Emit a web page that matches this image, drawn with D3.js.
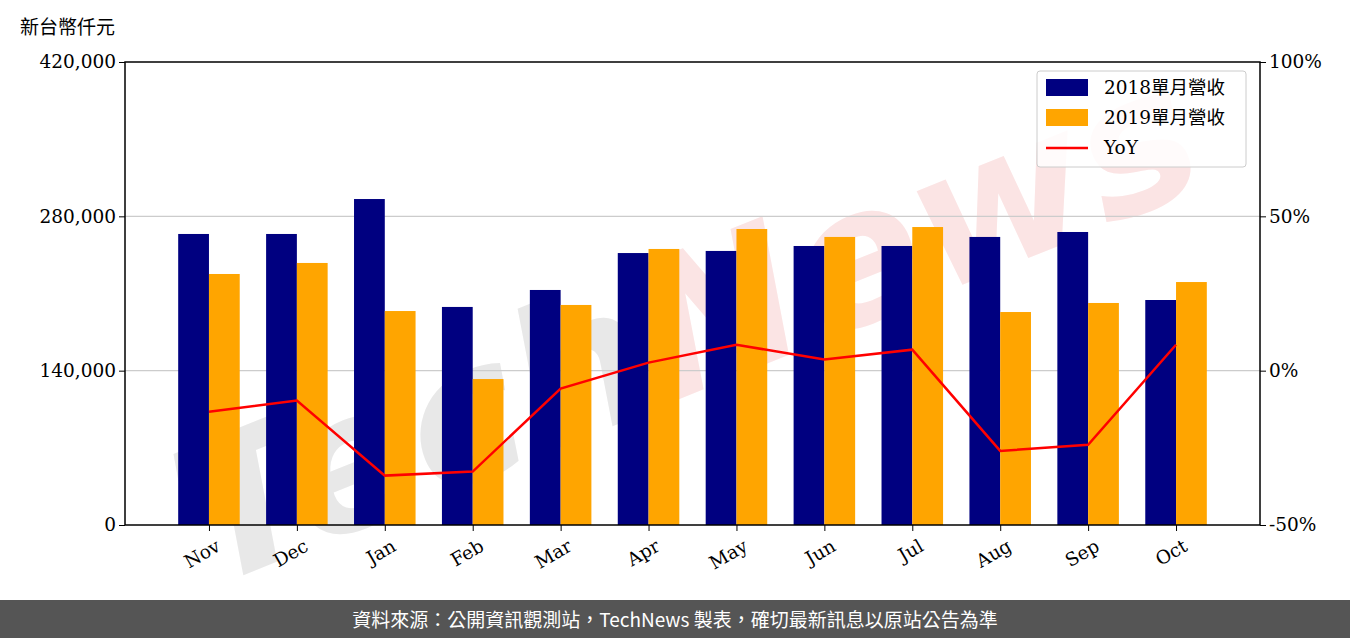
<!DOCTYPE html>
<html><head><meta charset="utf-8">
<script src="https://cdn.jsdelivr.net/npm/d3@7/dist/d3.min.js"></script>
<style>body{margin:0;background:#fff}</style></head>
<body><svg id="c" width="1350" height="638"></svg>
<script>
const categories=["Nov","Dec","Jan","Feb","Mar","Apr","May","Jun","Jul","Aug","Sep","Oct"];
const rev2018=[264000,264000,295700,197800,213200,246700,248600,253100,253100,261300,265800,204100];
const rev2019=[227700,237700,194100,132400,199600,250400,268500,261300,270300,193200,201400,220400];
const yoy=[-13.3,-9.7,-34,-32.7,-5.8,2.6,8.4,3.6,6.8,-26,-24,8.4];
const leftTicks=[0,140000,280000,420000];
const rightTicks=[-50,0,50,100];
const svg=d3.select("#c");
const L=125,R=1260,T=62,B=525;
const serif="'DejaVu Serif',serif", cjk="'Noto Sans CJK TC',sans-serif";
const x=d3.scaleLinear().domain([-0.955,11.955]).range([L,R]);
const y=d3.scaleLinear().domain([0,420000]).range([B,T]);
const y2=d3.scaleLinear().domain([-50,100]).range([B,T]);
const bw=0.35;
// watermark
const wm=svg.append("text").attr("x",690).attr("y",390).attr("text-anchor","middle")
 .attr("transform","rotate(-22,690,330)")
 .attr("font-family","'DejaVu Sans',sans-serif").attr("font-size",190).attr("font-style","italic").attr("font-weight","bold")
 .attr("textLength",1080).attr("lengthAdjust","spacingAndGlyphs");
wm.append("tspan").attr("fill","#e8e8e8").text("Tech");
wm.append("tspan").attr("fill","#fbe4e4").text("News");
svg.selectAll(".g").data([140000,280000]).join("line").attr("x1",L).attr("x2",R)
 .attr("y1",d=>y(d)).attr("y2",d=>y(d)).attr("stroke","#ccc").attr("stroke-width",1.2);
svg.selectAll(".b1").data(rev2018).join("rect").attr("x",(d,i)=>x(i-bw)).attr("width",x(bw)-x(0))
 .attr("y",d=>y(d)).attr("height",d=>B-y(d)).attr("fill","#000080");
svg.selectAll(".b2").data(rev2019).join("rect").attr("x",(d,i)=>x(i)).attr("width",x(bw)-x(0))
 .attr("y",d=>y(d)).attr("height",d=>B-y(d)).attr("fill","#FFA500");
svg.append("path").datum(yoy).attr("d",d3.line().x((d,i)=>x(i)).y(d=>y2(d)))
 .attr("fill","none").attr("stroke","red").attr("stroke-width",2.5);
svg.append("rect").attr("x",L).attr("y",T).attr("width",R-L).attr("height",B-T).attr("fill","none").attr("stroke","#000").attr("stroke-width",1.5);
const la=svg.append("g").attr("transform",`translate(${L},0)`).call(d3.axisLeft(y).tickValues(leftTicks).tickFormat(d3.format(",")).tickSizeOuter(0));
const ra=svg.append("g").attr("transform",`translate(${R},0)`).call(d3.axisRight(y2).tickValues(rightTicks).tickFormat(d=>d+"%").tickSizeOuter(0));
const ba=svg.append("g").attr("transform",`translate(0,${B})`).call(d3.axisBottom(x).tickValues(d3.range(12)).tickFormat(i=>categories[i]).tickSizeOuter(0));
[la,ra,ba].forEach(a=>{a.select(".domain").remove();a.selectAll("text").attr("font-family",serif).attr("font-size",18.5).attr("fill","#000");a.selectAll("line").attr("stroke","#000");});
ba.selectAll("text").attr("text-anchor","end").attr("dx","-0.1em").attr("dy","1.0em").attr("transform","rotate(-30)");
svg.append("text").attr("x",20).attr("y",34).attr("font-family",cjk).attr("font-size",19).text("新台幣仟元");
// legend
const lg=svg.append("g");
lg.append("rect").attr("x",1037).attr("y",71).attr("width",209).attr("height",96).attr("fill","#fff").attr("fill-opacity",0.85).attr("stroke","#ccc").attr("rx",3);
const items=[["2018單月營收","#000080","r"],["2019單月營收","#FFA500","r"],["YoY","red","l"]];
items.forEach((it,i)=>{const yy=88+i*30;
 if(it[2]=="r")lg.append("rect").attr("x",1046).attr("y",yy-9).attr("width",42).attr("height",17).attr("fill",it[1]);
 else lg.append("line").attr("x1",1046).attr("x2",1088).attr("y1",yy).attr("y2",yy).attr("stroke",it[1]).attr("stroke-width",2.5);
 lg.append("text").attr("x",1104).attr("y",yy+6).attr("font-family",serif+","+cjk).attr("font-size",18.5).text(it[0]);});
svg.append("rect").attr("x",0).attr("y",600).attr("width",1350).attr("height",38).attr("fill","#555");
svg.append("text").attr("x",675).attr("y",627).attr("text-anchor","middle").attr("font-family",cjk).attr("font-size",19).attr("fill","#fff")
 .text("資料來源：公開資訊觀測站，TechNews 製表，確切最新訊息以原站公告為準");
</script></body></html>
